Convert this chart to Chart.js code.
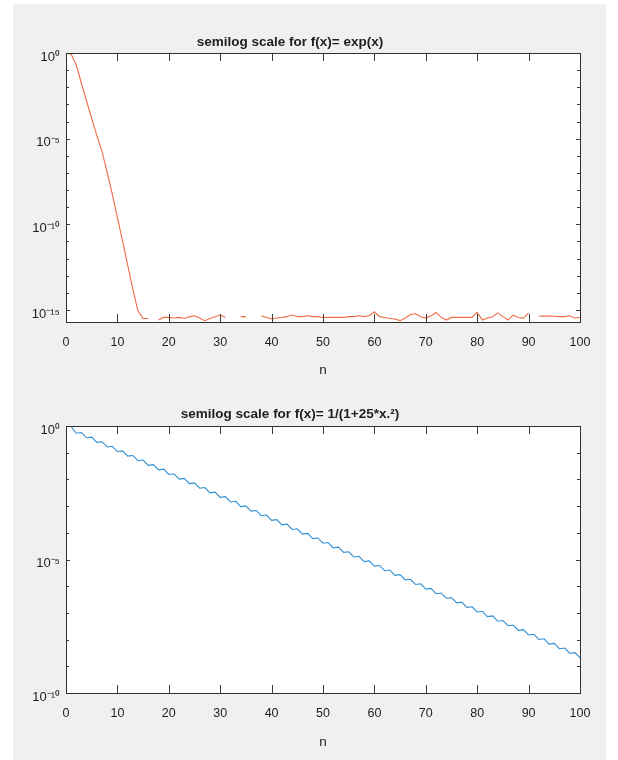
<!DOCTYPE html>
<html><head><meta charset="utf-8">
<script src="https://cdn.jsdelivr.net/npm/chart.js@4.4.1/dist/chart.umd.min.js"></script>
<style>
html,body{margin:0;padding:0;background:#fff;}
#wrap{position:relative;width:618px;height:760px;overflow:hidden;background:#fff;}
#fig{position:absolute;left:13px;top:4px;width:593px;height:756px;background:#f0f0f0;}
canvas{position:absolute;left:0;}
#c1{top:0;} #c2{top:380px;}
</style></head><body>
<div id="wrap"><div id="fig"></div>
<canvas id="c1" width="618" height="380"></canvas>
<canvas id="c2" width="618" height="380"></canvas></div>
<script>
// ---------- data ----------
const nValues = [0,1,2,3,4,5,6,7,8,9,10,11,12,13,14,15,16,17,18,19,20,21,22,23,24,25,26,27,28,29,30,31,32,33,34,35,36,37,38,39,40,41,42,43,44,45,46,47,48,49,50,51,52,53,54,55,56,57,58,59,60,61,62,63,64,65,66,67,68,69,70,71,72,73,74,75,76,77,78,79,80,81,82,83,84,85,86,87,88,89,90,91,92,93,94,95,96,97,98,99,100];

const expValues = [1.0,0.85,0.2,1.66e-2,1.58e-3,1.51e-4,1.5e-5,1.8e-6,1.1e-7,6.0e-9,
  2.5e-10,1.07e-11,4.2e-13,1.66e-14,8.7e-16,3.2e-16,3.2e-16,null,2.6e-16,3.7e-16,
  3.7e-16,3.4e-16,3.7e-16,3.2e-16,4.0e-16,4.6e-16,3.4e-16,2.4e-16,3.2e-16,4.0e-16,
  5.1e-16,3.7e-16,null,null,4.1e-16,4.1e-16,null,null,4.6e-16,3.7e-16,
  3.0e-16,3.4e-16,3.7e-16,4.1e-16,5.1e-16,4.1e-16,4.1e-16,4.6e-16,4.1e-16,4.1e-16,
  3.7e-16,3.7e-16,3.7e-16,3.7e-16,3.7e-16,4.1e-16,4.1e-16,4.6e-16,4.1e-16,4.6e-16,
  7.9e-16,4.1e-16,3.7e-16,3.2e-16,3.0e-16,2.4e-16,3.4e-16,5.5e-16,6.0e-16,4.1e-16,
  3.4e-16,4.6e-16,7.2e-16,3.7e-16,2.6e-16,3.7e-16,3.7e-16,3.7e-16,3.7e-16,3.7e-16,
  7.2e-16,2.6e-16,3.4e-16,4.1e-16,6.8e-16,4.1e-16,2.6e-16,5.1e-16,3.7e-16,3.4e-16,
  6.8e-16,null,4.3e-16,4.4e-16,4.4e-16,4.3e-16,4.1e-16,4.1e-16,4.6e-16,3.4e-16,
  3.7e-16];

const rungeValues = [1.0,0.96,0.537,0.57,0.362,0.384,0.2435,0.258,0.164,0.174,
  0.1105,0.117,0.0744,0.0788,0.0501,0.0532,0.0337,0.0358,0.0227,0.0241,
  0.0153,0.0162,0.0103,0.0109,6.94e-3,7.36e-3,4.67e-3,4.96e-3,3.15e-3,3.34e-3,
  2.12e-3,2.25e-3,1.428e-3,1.51e-3,9.61e-4,1.02e-3,6.47e-4,6.86e-4,4.36e-4,4.62e-4,
  2.94e-4,3.12e-4,1.977e-4,2.10e-4,1.331e-4,1.41e-4,8.97e-5,9.51e-5,6.04e-5,6.40e-5,
  4.07e-5,4.31e-5,2.74e-5,2.90e-5,1.844e-5,1.95e-5,1.242e-5,1.32e-5,8.36e-6,8.86e-6,
  5.63e-6,5.97e-6,3.79e-6,4.02e-6,2.555e-6,2.71e-6,1.72e-6,1.82e-6,1.159e-6,1.23e-6,
  7.80e-7,8.27e-7,5.25e-7,5.57e-7,3.54e-7,3.75e-7,2.383e-7,2.53e-7,1.605e-7,1.70e-7,
  1.081e-7,1.15e-7,7.28e-8,7.72e-8,4.90e-8,5.19e-8,3.30e-8,3.50e-8,2.222e-8,2.36e-8,
  1.497e-8,1.59e-8,1.008e-8,1.07e-8,6.79e-9,7.20e-9,4.57e-9,4.84e-9,3.08e-9,3.26e-9,
  2.07e-9];

const xTickValues = [0,10,20,30,40,50,60,70,80,90,100];
const topYTickValues = [1,1e-1,1e-2,1e-3,1e-4,1e-5,1e-6,1e-7,1e-8,1e-9,1e-10,1e-11,1e-12,1e-13,1e-14,1e-15];
const topYTickLabels = ['10⁰','','','','','10⁻⁵','','','','','10⁻¹⁰','','','','','10⁻¹⁵'];
const bottomYTickValues = [1,1e-1,1e-2,1e-3,1e-4,1e-5,1e-6,1e-7,1e-8,1e-9,1e-10];
const bottomYTickLabels = ['10⁰','','','','','10⁻⁵','','','','','10⁻¹⁰'];
const topTitle = 'semilog scale for f(x)= exp(x)';
const bottomTitle = 'semilog scale for f(x)= 1/(1+25*x.²)';
const xLabel = 'n';

// ---------- font choice ----------
function hasFont(name){
  const c = document.createElement('canvas').getContext('2d');
  c.font = '20px monospace';
  const a = c.measureText('semilog scale 100').width;
  c.font = '20px "' + name + '", monospace';
  const b = c.measureText('semilog scale 100').width;
  return Math.abs(a - b) > 0.5;
}
const narrow = hasFont('Liberation Sans Narrow');
const FAMILY = narrow ? '"Liberation Sans Narrow", "Liberation Sans", Arial, sans-serif' : '"Liberation Sans", Arial, sans-serif';
const TICK_SIZE = narrow ? 14 : 12.5;
const TITLE_SIZE = narrow ? 16 : 13.5;
const TEXT = '#1e1e1e';

// ---------- plugin: white axes area, box and inward ticks ----------
const axesBox = {
  id: 'axesBox',
  beforeDraw(chart) {
    const {ctx, chartArea: a} = chart;
    ctx.save();
    ctx.fillStyle = '#ffffff';
    ctx.fillRect(a.left, a.top, a.right - a.left, a.bottom - a.top);
    ctx.restore();
  },
  afterDraw(chart) {
    const {ctx, chartArea: a, scales: {x, y}} = chart;
    ctx.save();
    ctx.strokeStyle = '#3a3a3a';
    ctx.lineWidth = 1;
    ctx.beginPath();
    x.ticks.forEach(t => {
      const px = Math.round(x.getPixelForValue(t.value)) + 0.5;
      ctx.moveTo(px, a.bottom); ctx.lineTo(px, a.bottom - 8);
      ctx.moveTo(px, a.top); ctx.lineTo(px, a.top + 8);
    });
    y.ticks.forEach(t => {
      const py = Math.round(y.getPixelForValue(t.value)) + 0.5;
      const len = t.label ? 4 : 3;
      ctx.moveTo(a.left, py); ctx.lineTo(a.left + len, py);
      ctx.moveTo(a.right, py); ctx.lineTo(a.right - len, py);
    });
    ctx.stroke();
    ctx.strokeStyle = '#303030';
    ctx.strokeRect(a.left + 0.5, a.top + 0.5, a.right - a.left, a.bottom - a.top);
    ctx.restore();
  }
};

function makeChart(canvasId, values, color, yMin, yTicks, yLabels, title, titlePad, areaBottomLocal, nPad) {
  const points = nValues.map((n, i) => ({x: n, y: values[i]}));
  return new Chart(document.getElementById(canvasId), {
    type: 'line',
    data: { datasets: [{ data: points, borderColor: color, borderWidth: 1.1, pointRadius: 0, tension: 0, spanGaps: false, fill: false }] },
    plugins: [axesBox],
    options: {
      responsive: false, animation: false, devicePixelRatio: 1,
      layout: { padding: { left: 0, right: 38, top: 0, bottom: 0 } },
      plugins: {
        legend: { display: false }, tooltip: { enabled: false },
        title: { display: true, text: title, color: TEXT, padding: titlePad,
                 font: { family: FAMILY, size: TITLE_SIZE, weight: 'bold', lineHeight: 1.2 } }
      },
      scales: {
        x: {
          type: 'linear', min: 0, max: 100,
          afterBuildTicks: s => { s.ticks = xTickValues.map(v => ({value: v})); },
          afterFit: s => { s.height = 380 - areaBottomLocal; s.paddingLeft = 0; s.paddingRight = 0; },
          grid: { display: false, drawTicks: false }, border: { display: false },
          ticks: { autoSkip: false, maxRotation: 0, minRotation: 0, padding: 13, color: TEXT,
                   font: { family: FAMILY, size: TICK_SIZE }, callback: v => String(v) },
          title: { display: true, text: xLabel, color: TEXT, padding: { top: 0, bottom: nPad },
                   font: { family: FAMILY, size: TICK_SIZE + 1, lineHeight: 1.2 } }
        },
        y: {
          type: 'logarithmic', min: yMin, max: 1,
          afterBuildTicks: s => { s.ticks = yTicks.map(v => ({value: v})); },
          afterFit: s => { s.width = 66; s.paddingTop = 0; s.paddingBottom = 0; },
          grid: { display: false, drawTicks: false }, border: { display: false },
          ticks: { autoSkip: false, padding: 6, labelOffset: 4, color: TEXT,
                   font: { family: FAMILY, size: TICK_SIZE + 0.5 },
                   callback: (v, i) => yLabels[i] }
        }
      }
    }
  });
}

makeChart('c1', expValues, '#EE6C45', 2e-16, topYTickValues, topYTickLabels, topTitle, { top: 34, bottom: 2.8 }, 322, 2);
makeChart('c2', rungeValues, '#2F8FD6', 1e-10, bottomYTickValues, bottomYTickLabels, bottomTitle, { top: 26, bottom: 3.8 }, 313, 10);
</script>
</body></html>
